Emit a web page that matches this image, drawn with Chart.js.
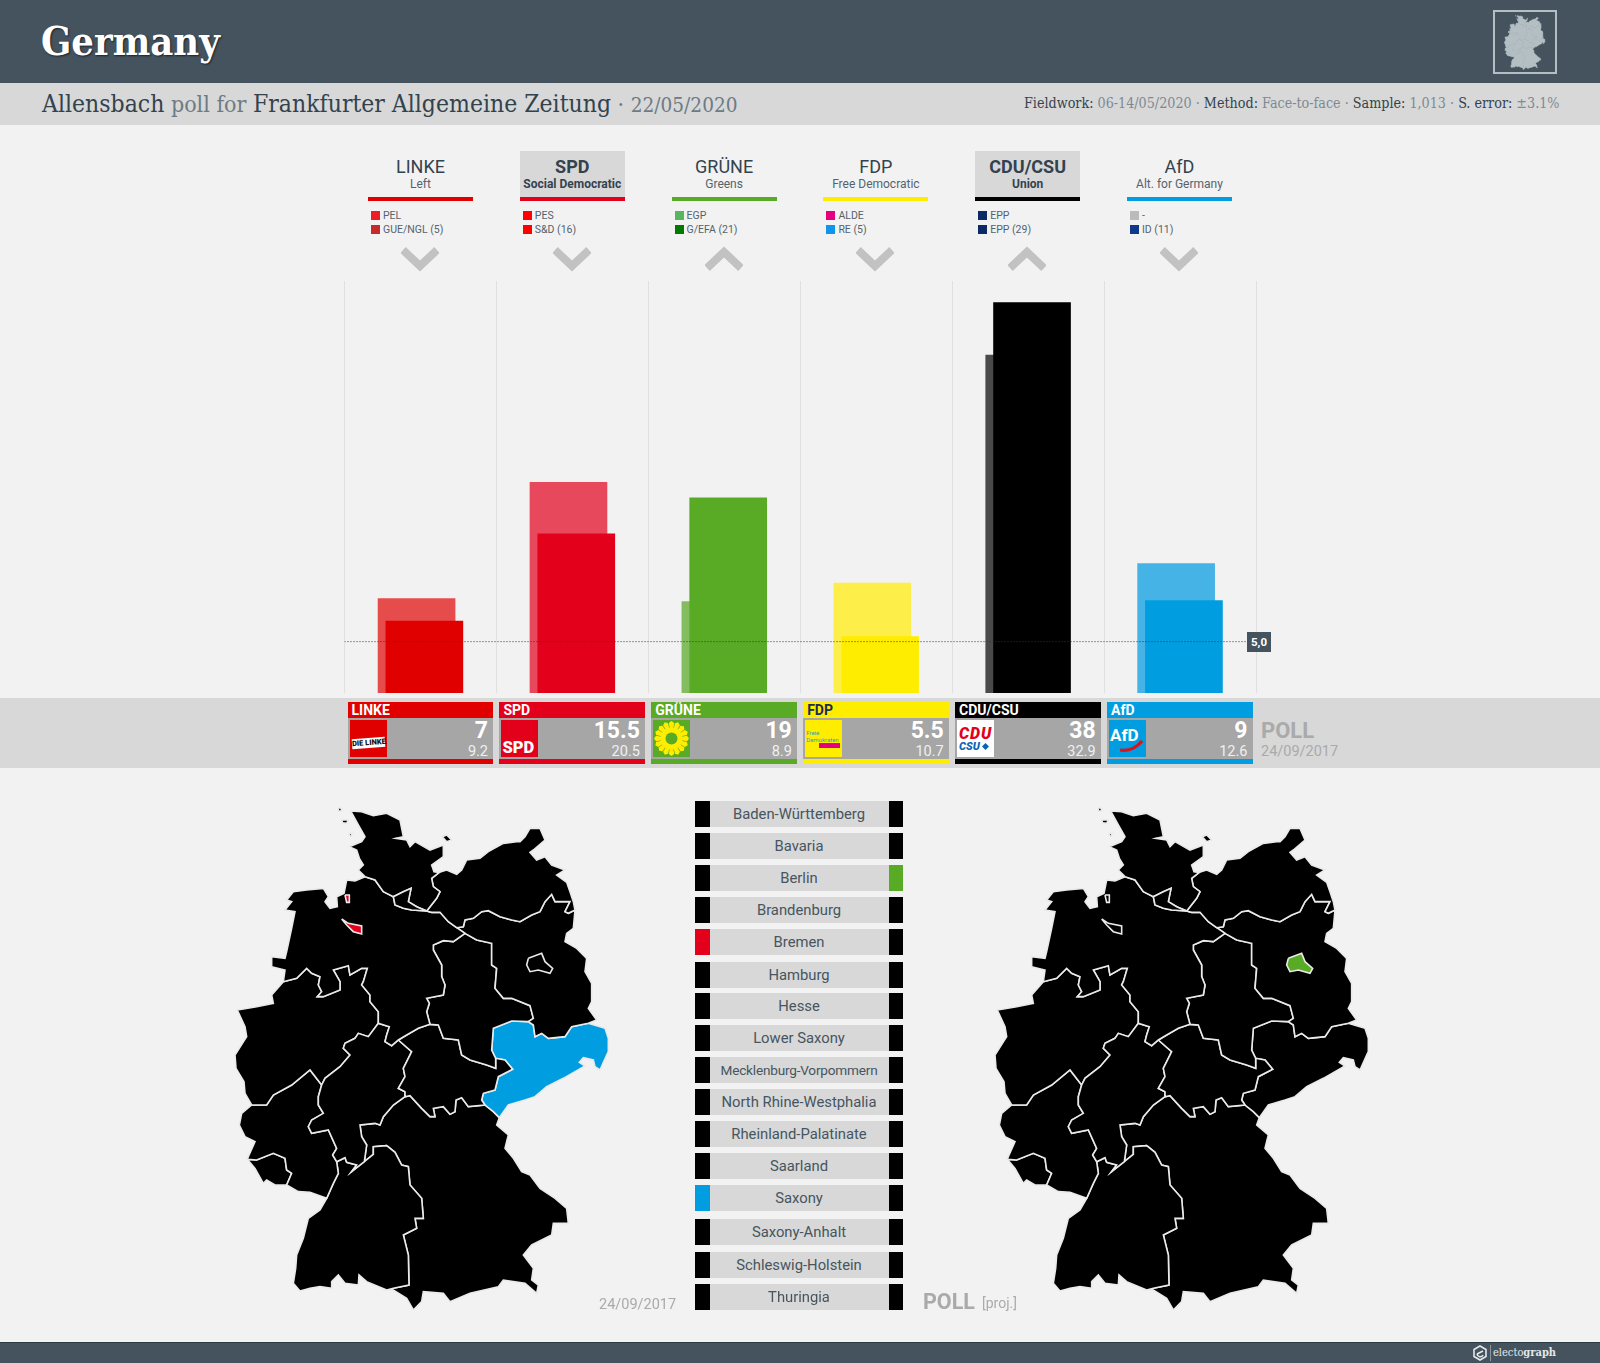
<!DOCTYPE html>
<html>
<head>
<meta charset="utf-8">
<title>Germany poll</title>
<script src="https://cdn.jsdelivr.net/npm/chart.js@4/dist/chart.umd.min.js"></script>
<style>
  html, body { margin: 0; padding: 0; background: #f2f2f2; }
  #page { position: relative; width: 1600px; height: 1363px; overflow: hidden; font-family: Roboto, sans-serif; color: #3a4a55; }
  #page div, #page canvas, #page svg { position: absolute; }
  .slab { font-family: "DejaVu Serif Condensed", "DejaVu Serif", serif; white-space: nowrap; }
  #top { left: 0; top: 0; width: 1600px; height: 83px; background: #44535e; }
  #title { left: 41px; top: 18px; font-size: 39.5px; font-weight: bold; color: #fff; text-shadow: 1px 1px 2px rgba(0,0,0,.6); }
  #iconbox { left: 1493px; top: 10px; width: 60px; height: 60px; border: 2px solid #b4bfc4; }
  #sub { left: 0; top: 83px; width: 1600px; height: 42px; background: #d8d8d8; }
  #subleft { left: 42px; top: 6px; font-size: 23px; line-height: 30px; color: #6d7b85; }
  #subleft .dk { font-size: 24.5px; }
  #subleft .when { font-size: 20.6px; }
  #subright { left: 1024px; top: 12px; font-size: 14.2px; color: #7d8a93; }
  .dk { color: #33434e; }
  .head { top: 151px; width: 105px; height: 50px; text-align: center; box-sizing: border-box; }
  .head .nm { left: 0; width: 100%; top: 5px; font-size: 18px; line-height: 22px; color: #33434e; }
  .head .ds { left: 0; width: 100%; top: 26px; font-size: 12px; line-height: 15px; color: #55636d; white-space: nowrap; }
  .head.gov { background: #d8d8d8; }
  .head.gov .nm, .head.gov .ds { font-weight: bold; color: #33434e; }
  .head .ln { left: 0; bottom: 0; width: 100%; height: 4px; }
  .grp { font-size: 10.5px; line-height: 13px; color: #55636d; white-space: nowrap; }
  .sq { width: 9px; height: 9px; }
  #band { left: 0; top: 698px; width: 1600px; height: 70px; background: #d8d8d8; }
  .card { top: 702px; width: 145.5px; height: 62px; background: #a6a6a6; }
  .card .hd { left: 0; top: 0; width: 100%; height: 16px; font-size: 14px; font-weight: bold; line-height: 17px; text-indent: 4px; color: #fff; }
  .card .ft { left: 0; bottom: 0; width: 100%; height: 5px; }
  .card .big { right: 5px; top: 15px; font-size: 23px; font-weight: bold; line-height: 27px; color: #fff; }
  .card .sm { right: 5px; top: 41px; font-size: 14.5px; line-height: 17px; color: #f0f0f0; }
  .logo { left: 2px; top: 18px; width: 37px; height: 37px; overflow: hidden; }
  .poll { color: #aaa; font-weight: bold; white-space: nowrap; }
  .date { color: #aaa; font-size: 14.5px; white-space: nowrap; }
  #tag { left: 1247px; top: 632px; width: 24px; height: 20px; background: #44535e; color: #fff; font-size: 11.5px; font-weight: bold; line-height: 20px; text-align: center; }
  .row { left: 695px; width: 208px; height: 26px; background: #d8d8d8; }
  .row .sw { top: 0; width: 14.5px; height: 26px; }
  .row .nm { left: 14.5px; width: 179px; top: 0; line-height: 26px; text-align: center; font-size: 14.8px; color: #46555f; white-space: nowrap; }
  #foot { left: 0; top: 1342px; width: 1600px; height: 21px; background: #44535e; border-top: 1px solid #2c3a44; box-sizing: border-box; }
  #brand { left: 1493px; top: 3px; font-size: 11px; color: #e4e8ea; }
  #brandline { left: 1490px; top: 2px; width: 1px; height: 16px; background: #8a979f; }
</style>
</head>
<body>
<div id="page">
  <div id="top">
    <div id="title" class="slab">Germany</div>
    <div id="iconbox"></div>
    <canvas id="iconMap" width="42" height="56" style="left:1504px;top:14px"></canvas>
  </div>
  <div id="sub">
    <div id="subleft" class="slab"><span class="dk">Allensbach</span> poll for <span class="dk">Frankfurter Allgemeine Zeitung</span> · <span class="when">22/05/2020</span></div>
    <div id="subright" class="slab"><span class="dk">Fieldwork:</span> 06-14/05/2020 · <span class="dk">Method:</span> Face-to-face · <span class="dk">Sample:</span> 1,013 · <span class="dk">S. error:</span> ±3.1%</div>
  </div>
  <div id="band"></div>
  <canvas id="barChart" width="932" height="422" style="left:334px;top:276px"></canvas>
  <div id="tag">5,0</div>
  <div class="poll" style="left:1261px;top:718px;font-size:22px;line-height:26px">POLL</div>
  <div class="date" style="left:1261px;top:743px;line-height:18px">24/09/2017</div>
  <canvas id="mapLeft" width="390" height="520" style="left:230px;top:795px"></canvas>
  <canvas id="mapRight" width="390" height="520" style="left:990px;top:795px"></canvas>
  <div class="date" style="left:599px;top:1296px;line-height:18px">24/09/2017</div>
  <div class="poll" style="left:923px;top:1289px;font-size:21.5px;line-height:26px">POLL</div>
  <div class="date" style="left:982px;top:1294px;line-height:18px;font-size:14px">[proj.]</div>
  <div id="foot">
    <svg width="16" height="16" style="left:1472px;top:2px" viewBox="0 0 16 16"><path d="M8 1 L14 4.5 L14 11.5 L8 15 L2 11.5 L2 4.5 Z" fill="none" stroke="#e4e8ea" stroke-width="1.6"/><path d="M5 9 L11 6 M5 9 A3.2 3.2 0 0 0 11 10" fill="none" stroke="#e4e8ea" stroke-width="1.6"/></svg>
    <div id="brandline"></div>
    <div id="brand" class="slab">electo<b>graph</b></div>
  </div>
</div>

<script>
// poll data
const parties = ['LINKE', 'SPD', 'GRÜNE', 'FDP', 'CDU/CSU', 'AfD'];
const partyNames = ['Left', 'Social Democratic', 'Greens', 'Free Democratic', 'Union', 'Alt. for Germany'];
const pollValues = [7, 15.5, 19, 5.5, 38, 9];
const lastElection = [9.2, 20.5, 8.9, 10.7, 32.9, 12.6];
const threshold = 5;
const partyColors = ['#e00000', '#e3001b', '#59aa25', '#ffed00', '#000000', '#009ee0'];
const lastColors = ['#e74c4c', '#e8485c', '#84bc60', '#fdee4a', '#4a4a4a', '#46b3e6'];
const governing = ['SPD', 'CDU/CSU'];
const rising = ['GRÜNE', 'CDU/CSU'];

const groupsEuropean = ['PEL', 'PES', 'EGP', 'ALDE', 'EPP', '-'];
const groupsParliament = ['GUE/NGL (5)', 'S&D (16)', 'G/EFA (21)', 'RE (5)', 'EPP (29)', 'ID (11)'];
const europeanColors = ['#ee1c25', '#ff0000', '#57b45f', '#e6007e', '#0d2a66', '#bbbbbb'];
const parliamentColors = ['#c72a2a', '#ff0000', '#007a00', '#0f95ee', '#0d2a66', '#0f3a8a'];

const regions = ['Baden-Württemberg', 'Bavaria', 'Berlin', 'Brandenburg', 'Bremen', 'Hamburg', 'Hesse', 'Lower Saxony',
  'Mecklenburg-Vorpommern', 'North Rhine-Westphalia', 'Rheinland-Palatinate', 'Saarland', 'Saxony', 'Saxony-Anhalt',
  'Schleswig-Holstein', 'Thuringia'];
const regionLeft = ['CDU/CSU', 'CDU/CSU', 'CDU/CSU', 'CDU/CSU', 'SPD', 'CDU/CSU', 'CDU/CSU', 'CDU/CSU',
  'CDU/CSU', 'CDU/CSU', 'CDU/CSU', 'CDU/CSU', 'AfD', 'CDU/CSU', 'CDU/CSU', 'CDU/CSU'];
const regionRight = ['CDU/CSU', 'CDU/CSU', 'GRÜNE', 'CDU/CSU', 'CDU/CSU', 'CDU/CSU', 'CDU/CSU', 'CDU/CSU',
  'CDU/CSU', 'CDU/CSU', 'CDU/CSU', 'CDU/CSU', 'CDU/CSU', 'CDU/CSU', 'CDU/CSU', 'CDU/CSU'];
const rowCenters = [814, 846, 877.5, 910, 942, 974.5, 1006, 1038, 1069.5, 1102, 1133.5, 1165.5, 1198, 1231.5, 1265, 1297];

// map outline pieces
const coastSH = [[405,245],[385,225],[400,210],[388,190],[380,165],[358,155],[395,140],[405,125],[385,90],[362,48],[395,50],[430,62],[470,55],[510,75],[520,125],[497,130],[530,135],[540,155],[555,140],[600,165],[640,150],[640,185],[605,210],[612,230],[628,232]];
const lineSHMV = [[628,232],[605,250],[610,275],[630,290],[620,310],[590,348]];
const lineSHHH = [[590,348],[560,335],[535,320],[543,280],[520,290],[490,305]];
const lineSHNI = [[490,305],[460,290],[435,255],[405,245]];
const coastMV = [[628,232],[650,225],[680,238],[695,225],[710,195],[750,190],[775,170],[820,145],[860,140],[870,140],[885,125],[900,100],[930,100],[945,135],[910,165],[900,172],[920,195],[945,185],[965,210],[1005,225],[980,240],[1010,262],[1020,290],[1030,320],[1035,345]];
const lineMVBB = [[1035,345],[1015,355],[1005,350],[1020,320],[975,320],[965,298],[945,320],[930,350],[905,360],[870,380],[845,375],[810,365],[775,347],[755,350],[730,370],[705,375],[700,395],[680,398]];
const lineMVNI = [[680,398],[655,380],[630,352],[605,352],[590,348]];
const lineHHNI = [[490,305],[495,330],[520,340],[545,345],[590,348]];
const coastNI = [[405,245],[375,258],[350,255],[342,295],[320,305],[322,335],[300,340],[285,320],[295,305],[280,280],[230,285],[190,290],[170,315],[185,320],[165,345],[195,350],[185,400],[170,470],[165,490],[125,485],[125,515],[165,525],[160,560]];
const lineNINW = [[160,560],[200,550],[230,520],[245,535],[270,545],[265,570],[275,590],[262,605],[280,605],[330,585],[330,560],[310,525],[355,512],[360,540],[395,520],[412,520],[400,560],[395,570],[420,600],[420,620],[445,650],[445,685]];
const lineNIHE = [[445,685],[478,695],[470,720],[465,740],[485,752],[505,735]];
const lineNITH = [[505,735],[530,720],[565,700],[600,688]];
const lineNIST = [[600,688],[590,650],[598,625],[590,610],[640,600],[645,570],[635,545],[635,510],[610,465],[610,450],[640,437],[670,440],[705,415]];
const lineNIBB = [[705,415],[680,398]];
const lineSTBB = [[705,415],[740,435],[785,445],[785,510],[800,520],[795,580],[820,610],[845,610],[900,632],[910,670],[895,680]];
const lineSTSN = [[895,680],[845,678],[790,700],[785,765],[797,790]];
const lineSTTH = [[600,688],[625,690],[640,730],[685,735],[695,780],[720,795],[770,810],[797,820],[797,790]];
const lineTHSN = [[797,790],[825,795],[848,823],[805,845],[795,885],[760,895],[755,915],[765,930]];
const lineTHBY = [[765,930],[715,935],[695,908],[678,915],[675,950],[660,958],[640,935],[610,940],[615,965],[600,965],[575,940],[540,902],[525,905]];
const lineTHHE = [[525,905],[525,890],[505,880],[525,845],[520,820],[545,770],[505,735]];
const lineBBSN = [[895,680],[910,690],[915,725],[935,715],[955,730],[1005,725],[1025,695],[1075,685]];
const borderBB = [[1035,345],[1030,400],[1010,415],[1005,440],[1040,460],[1070,490],[1065,530],[1085,565],[1085,620],[1075,640],[1100,675],[1075,685]];
const borderSN = [[1075,685],[1125,700],[1135,730],[1135,770],[1130,780],[1110,825],[1095,815],[1090,795],[1060,788],[1048,802],[1065,813],[1000,850],[950,875],[915,905],[885,915],[835,930],[808,968]];
const lineBYSN = [[808,968],[790,950],[765,930]];
const lineHENW = [[275,870],[285,850],[330,815],[360,780],[340,760],[345,745],[375,730],[385,715],[415,725],[445,685]];
const lineHERP = [[275,870],[265,905],[265,930],[280,955],[245,975],[235,995],[245,1015],[295,1005],[320,1060],[308,1080],[320,1100]];
const lineHEBW = [[320,1100],[345,1088],[350,1102],[380,1110],[365,1130],[403,1100]];
const lineHEBY = [[403,1100],[410,1050],[395,1025],[390,990],[435,985],[450,990],[460,965],[490,930],[525,905]];
const lineRPNW = [[65,930],[110,930],[130,900],[185,870],[240,825],[275,870]];
const borderNW = [[160,560],[125,600],[130,625],[80,635],[22,645],[45,695],[50,725],[15,780],[18,820],[42,860],[45,895],[65,930]];
const lineRPBW = [[320,1100],[325,1135],[310,1165],[290,1210]];
const borderRPSouth = [[290,1210],[240,1192],[205,1190],[170,1170]];
const lineRPSL = [[52,1093],[80,1095],[130,1075],[165,1090],[170,1125],[185,1135],[170,1170]];
const borderRPWest = [[65,930],[35,955],[28,990],[45,1025],[75,1040],[55,1085],[52,1093]];
const borderSL = [[170,1170],[135,1170],[110,1155],[100,1165],[75,1120],[52,1093]];
const lineBWBY = [[403,1100],[430,1078],[430,1055],[470,1052],[495,1072],[515,1110],[535,1115],[540,1170],[575,1210],[580,1270],[555,1270],[560,1300],[520,1320],[535,1380],[537,1470],[490,1480],[470,1485]];
const borderBW = [[470,1485],[410,1460],[387,1440],[385,1470],[345,1465],[325,1440],[305,1460],[305,1480],[270,1475],[240,1480],[210,1488],[190,1465],[197,1420],[200,1380],[220,1330],[235,1270],[270,1245],[290,1210]];
const borderBY = [[808,968],[800,990],[835,1020],[825,1060],[850,1090],[875,1130],[900,1140],[930,1180],[975,1210],[1010,1240],[1015,1285],[970,1285],[965,1320],[905,1350],[880,1380],[910,1420],[905,1455],[925,1470],[920,1495],[885,1465],[820,1455],[805,1475],[720,1495],[660,1520],[640,1495],[580,1490],[575,1520],[550,1545],[530,1510],[490,1485],[470,1485]];
const outlineBerlin = [[895,490],[935,475],[945,500],[968,520],[960,535],[925,525],[900,530],[890,510]];
const outlineBremen = [[335,372],[355,385],[395,393],[395,417],[370,410],[350,390]];
const outlineBremerhaven = [[345,300],[358,300],[358,322],[350,322]];
const islandsSH = [[[637,125],[650,120],[665,135],[650,140]], [[335,75],[355,75],[350,85],[338,83]], [[325,40],[333,38],[335,48],[326,48]], [[358,115],[366,115],[364,124],[358,122]]];

function rev(line) {
  return line.slice().reverse();
}

const shapes = {
  'Bremen': [outlineBremen, outlineBremerhaven],
  'Berlin': [outlineBerlin],
  'Hamburg': [[...lineSHHH, ...lineHHNI]],
  'Schleswig-Holstein': [[...coastSH, ...lineSHMV, ...lineSHHH, ...lineSHNI], ...islandsSH],
  'Mecklenburg-Vorpommern': [[...coastMV, ...lineMVBB, ...lineMVNI, ...rev(lineSHMV)]],
  'Lower Saxony': [[...coastNI, ...lineNINW, ...lineNIHE, ...lineNITH, ...lineNIST, ...lineNIBB, ...lineMVNI, ...rev(lineHHNI), ...lineSHNI]],
  'Brandenburg': [[...rev(lineMVBB), ...borderBB, ...rev(lineBBSN), ...rev(lineSTBB), ...lineNIBB]],
  'Saxony-Anhalt': [[...lineNIST, ...lineSTBB, ...lineSTSN, ...rev(lineSTTH)]],
  'Thuringia': [[...lineNITH, ...lineSTTH, ...lineTHSN, ...lineTHBY, ...lineTHHE]],
  'Saxony': [[...lineBBSN, ...borderSN, ...lineBYSN, ...rev(lineTHSN), ...rev(lineSTSN)]],
  'Hesse': [[...lineNIHE, ...rev(lineTHHE), ...rev(lineHEBY), ...rev(lineHEBW), ...rev(lineHERP), ...lineHENW]],
  'North Rhine-Westphalia': [[...lineNINW, ...rev(lineHENW), ...rev(lineRPNW), ...rev(borderNW)]],
  'Rheinland-Palatinate': [[...lineRPNW, ...lineHERP, ...lineRPBW, ...borderRPSouth, ...rev(lineRPSL), ...rev(borderRPWest)]],
  'Saarland': [[...lineRPSL, ...borderSL]],
  'Baden-Württemberg': [[...lineHEBW, ...lineBWBY, ...borderBW, ...rev(lineRPBW)]],
  'Bavaria': [[...rev(lineTHBY), ...rev(lineBYSN), ...borderBY, ...rev(lineBWBY), ...lineHEBY]],
};

function colorOf(party) {
  return partyColors[parties.indexOf(party)];
}

function addDiv(parent, cls, css, html) {
  const el = document.createElement('div');
  if (cls) el.className = cls;
  if (css) el.style.cssText = css;
  if (html !== undefined) el.innerHTML = html;
  parent.appendChild(el);
  return el;
}

// small party logos
function sunflower() {
  let petals = '';
  for (let i = 0; i < 16; i++) {
    petals += '<path d="M18.5 18.5 L15.8 3 L18.5 1 L21.2 3 Z" fill="#ffed00" transform="rotate(' + (i * 22.5) + ' 18.5 18.5)"/>';
  }
  return '<svg width="37" height="37" viewBox="0 0 37 37">' + petals +
    '<circle cx="18.5" cy="18.5" r="11" fill="#ffed00"/><circle cx="18.5" cy="18.5" r="6" fill="#59aa25"/></svg>';
}

const logos = [
  '<div style="left:2px;top:18px;width:33px;height:10px;background:#fff;transform:rotate(-4deg);color:#111;font:900 7.5px/10px Roboto;text-align:center;white-space:nowrap">DIE LINKE.</div>',
  '<div style="left:1px;bottom:0;font:900 16.5px/18px Roboto;color:#fff">SPD</div>',
  sunflower(),
  '<div style="left:1px;top:10px;width:36px;font:6px/6.5px Roboto;color:#1aa5c7">Freie<br>Demokraten</div><div style="left:14px;top:23px;width:21px;height:5px;background:#e5007d"></div>',
  '<div style="left:2px;top:5px;font:italic 900 16px/17px Roboto;color:#e3001b;letter-spacing:.8px">CDU</div><div style="left:2px;top:21px;font:italic 900 11px/12px Roboto;color:#0a64b4">CSU</div><div style="left:25px;top:23px;width:7px;height:7px;background:#0a64b4;transform:rotate(45deg) scale(.7)"></div>',
  '<div style="left:1px;top:6px;font:bold 17px/18px Roboto;color:#fff">AfD</div><svg width="37" height="37" viewBox="0 0 37 37"><path d="M11 30 Q24 32 33 21" fill="none" stroke="#d8141c" stroke-width="3.2"/></svg>',
];

const page = document.getElementById('page');
const chevron = (up) => up ? 'M2 22 L19 6 L36 22' : 'M2 4 L19 20 L36 4';

parties.forEach((party, i) => {
  const center = 420.5 + i * 151.8;

  // column head
  const gov = governing.includes(party);
  const head = addDiv(page, 'head' + (gov ? ' gov' : ''), 'left:' + (center - 52.5) + 'px');
  addDiv(head, 'nm', '', party);
  addDiv(head, 'ds', '', partyNames[i]);
  addDiv(head, 'ln', 'background:' + partyColors[i]);

  // alliances
  addDiv(page, 'sq', 'left:' + (center - 49.5) + 'px;top:211px;background:' + europeanColors[i]);
  addDiv(page, 'sq', 'left:' + (center - 49.5) + 'px;top:224.5px;background:' + parliamentColors[i]);
  addDiv(page, 'grp', 'left:' + (center - 37.5) + 'px;top:209px', groupsEuropean[i]);
  addDiv(page, 'grp', 'left:' + (center - 37.5) + 'px;top:222.5px', groupsParliament[i]);

  // trend arrow
  const arrow = document.createElementNS('http://www.w3.org/2000/svg', 'svg');
  arrow.setAttribute('width', '38');
  arrow.setAttribute('height', '26');
  arrow.style.left = (center - 19.5) + 'px';
  arrow.style.top = '246px';
  arrow.innerHTML = '<path d="' + chevron(rising.includes(party)) + '" fill="none" stroke="#c2c2c2" stroke-width="8"/>';
  page.appendChild(arrow);

  // result card
  const card = addDiv(page, 'card', 'left:' + (347.5 + i * 151.9) + 'px');
  addDiv(card, 'hd', 'background:' + partyColors[i] + (party === 'FDP' ? ';color:#1c2c5c' : ''), party);
  addDiv(card, 'ft', 'background:' + partyColors[i]);
  addDiv(card, 'big', '', pollValues[i]);
  addDiv(card, 'sm', '', lastElection[i]);
  const logoBg = party === 'CDU/CSU' ? '#fff' : partyColors[i];
  addDiv(card, 'logo', 'background:' + logoBg, logos[i]);
});

regions.forEach((region, i) => {
  const row = addDiv(page, 'row', 'top:' + (rowCenters[i] - 13) + 'px');
  addDiv(row, 'sw', 'left:0;background:' + colorOf(regionLeft[i]));
  addDiv(row, 'sw', 'right:0;background:' + colorOf(regionRight[i]));
  const squeeze = region === 'Mecklenburg-Vorpommern' ? 'font-size:13.6px;letter-spacing:-.2px' : '';
  addDiv(row, 'nm', squeeze, region);
});

// bars: poll in front, last election a few pixels to the left behind it
const COL_SHIFT = 0.0257;
const gridStops = [-0.5, 0.5, 1.5, 2.5, 3.5, 4.5, 5.5];

new Chart(document.getElementById('barChart'), {
  type: 'bar',
  data: {
    datasets: [
      {
        label: 'Poll',
        xAxisID: 'xPoll',
        data: pollValues.map((v, i) => ({ x: i, y: v })),
        backgroundColor: partyColors,
        barThickness: 77,
        grouped: false,
      },
      {
        label: '24/09/2017',
        xAxisID: 'xLast',
        data: lastElection.map((v, i) => ({ x: i, y: v })),
        backgroundColor: lastColors,
        barThickness: 77,
        grouped: false,
      },
      {
        type: 'line',
        label: 'Threshold',
        xAxisID: 'x',
        data: [{ x: -0.5, y: threshold }, { x: 5.45, y: threshold }],
        borderColor: '#333333',
        borderWidth: 1,
        borderDash: [1, 2],
        pointRadius: 0,
        order: -1,
      },
    ],
  },
  options: {
    responsive: false,
    animation: false,
    layout: { padding: { left: 10.5, right: 10, top: 5, bottom: 5 } },
    plugins: { legend: { display: false }, tooltip: { enabled: false } },
    scales: {
      x: {
        type: 'linear',
        offset: false,
        min: -0.5,
        max: 5.5,
        afterBuildTicks: (scale) => { scale.ticks = gridStops.map((value) => ({ value })); },
        ticks: { display: false },
        grid: { color: '#e0e0e0', drawTicks: false, offset: false },
        border: { display: false },
      },
      xPoll: { type: 'linear', offset: false, display: false, min: -0.5 - COL_SHIFT, max: 5.5 - COL_SHIFT },
      xLast: { type: 'linear', offset: false, display: false, min: -0.5 + COL_SHIFT, max: 5.5 + COL_SHIFT },
      y: { display: false, min: 0, max: 40.1 },
    },
  },
});

// maps
function mapChart(id, winners, stroke) {
  const datasets = [];
  Object.keys(shapes).forEach((name) => {
    const color = winners ? colorOf(winners[regions.indexOf(name)]) : '#b4bfc4';
    shapes[name].forEach((outline) => {
      const points = [...outline, outline[0]].map((p) => ({ x: p[0], y: p[1] }));
      datasets.push({
        label: name,
        data: points,
        showLine: true,
        fill: 'shape',
        backgroundColor: color,
        borderColor: stroke || color,
        borderWidth: stroke ? 1.6 : 0.5,
        pointRadius: 0,
      });
    });
  });
  new Chart(document.getElementById(id), {
    type: 'scatter',
    data: { datasets },
    options: {
      responsive: false,
      animation: false,
      plugins: { legend: { display: false }, tooltip: { enabled: false } },
      scales: {
        x: { display: false, min: 0, max: 1170 },
        y: { display: false, min: 0, max: 1560, reverse: true },
      },
    },
  });
}

mapChart('mapLeft', regionLeft, '#eaeaea');
mapChart('mapRight', regionRight, '#eaeaea');
mapChart('iconMap', null, null);
</script>
</body>
</html>
